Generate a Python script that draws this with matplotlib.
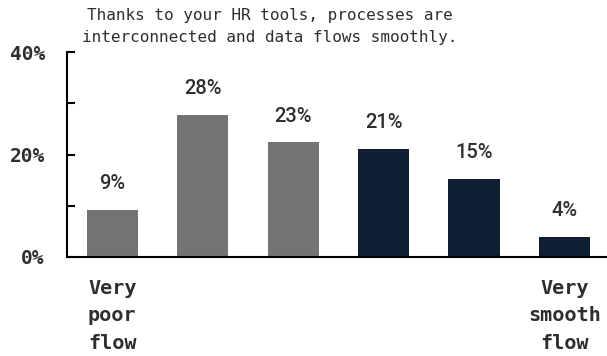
import matplotlib
matplotlib.use("Agg")
import matplotlib.pyplot as plt
from matplotlib.ticker import MultipleLocator, FuncFormatter

categories = ["Very\npoor\nflow", "", "", "", "", "Very\nsmooth\nflow"]
values = [9.2, 27.7, 22.4, 21.1, 15.2, 3.9]
value_labels = ["9%", "28%", "23%", "21%", "15%", "4%"]
title_text = "Thanks to your HR tools, processes are\ninterconnected and data flows smoothly."

gray = "#737373"
navy = "#0f1f31"
colors = [gray, gray, gray, navy, navy, navy]
text_color = "#2e2e2e"
mono = "DejaVu Sans Mono"

fig = plt.figure(figsize=(6.07, 3.56), dpi=100)
ax = fig.add_axes([67/607, 1-257/356, 1-67/607, (257-52)/356])

x = list(range(len(values)))
bars = ax.bar(x, values, width=0.565, color=colors)

for xi, v, lab in zip(x, values, value_labels):
    ax.annotate(lab, (xi, v), xytext=(0, 12), textcoords="offset points",
                ha="center", va="bottom", fontsize=14.5, family="Roboto",
                fontweight="medium", color=text_color)

ax.set_xlim(-0.5, 5.47)
ax.set_ylim(0, 40)
ax.yaxis.set_major_locator(MultipleLocator(20))
ax.yaxis.set_minor_locator(MultipleLocator(10))
ax.yaxis.set_major_formatter(FuncFormatter(lambda v, p: f"{int(v)}%"))
ax.tick_params(axis="y", which="both", direction="in", length=6, width=1.5,
               pad=16, labelsize=14, colors="black", labelcolor=text_color)
for t in ax.get_yticklabels():
    t.set_fontfamily(mono)
    t.set_fontweight("bold")

ax.set_xticks(x)
ax.set_xticklabels(categories)
ax.tick_params(axis="x", length=0, pad=16, labelsize=14.5, labelcolor=text_color)
for t in ax.get_xticklabels():
    t.set_fontfamily(mono)
    t.set_fontweight("bold")
    t.set_linespacing(1.55)

for s in ["top", "right"]:
    ax.spines[s].set_visible(False)
for s in ["left", "bottom"]:
    ax.spines[s].set_linewidth(1.5)
    ax.spines[s].set_color("black")

fig.text(270/607, 1-8/356, title_text, ha="center", va="top", fontsize=11.5,
         family=mono, color=text_color, linespacing=1.58)

fig.savefig("out.png", dpi=100)
